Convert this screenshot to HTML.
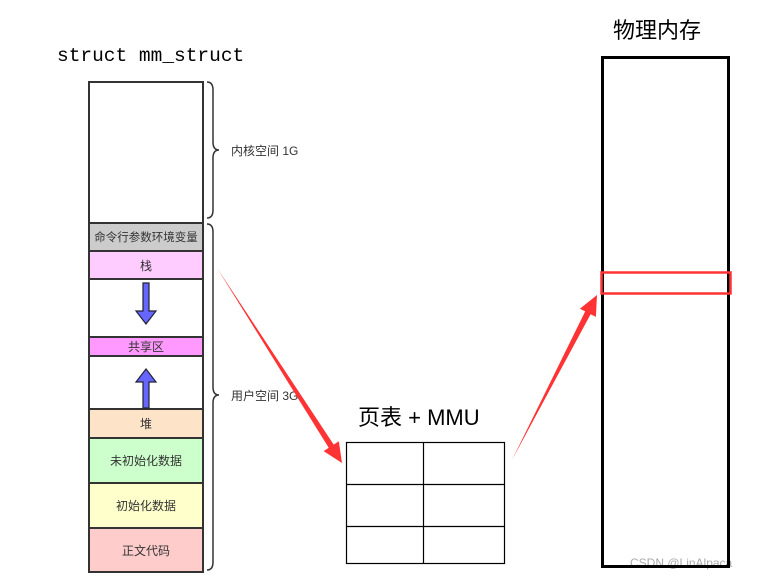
<!DOCTYPE html>
<html><head><meta charset="utf-8"><style>
body{margin:0;background:#fff;width:763px;height:582px;overflow:hidden;position:relative;font-family:"Liberation Sans","Noto Sans CJK SC",sans-serif}
.a{position:absolute}
.r{position:absolute;left:88px;width:116px;border:2px solid #333;box-sizing:border-box;display:flex;align-items:center;justify-content:center;font-size:12px;color:#333}
</style></head><body>
<div class="a" style="left:57px;top:45px;font-family:'Liberation Mono',monospace;font-size:19.5px">struct mm_struct</div>
<div class="r" style="top:81px;height:143px;background:#fff"></div>
<div class="r" style="top:222px;height:30px;background:#ccc;font-size:11.5px;white-space:nowrap">命令行参数环境变量</div>
<div class="r" style="top:250px;height:30px;background:#fcf">栈</div>
<div class="r" style="top:278px;height:60px;background:#fff"></div>
<div class="r" style="top:336px;height:21px;background:#f9f">共享区</div>
<div class="r" style="top:355px;height:55px;background:#fff"></div>
<div class="r" style="top:408px;height:31px;background:#fde4c8">堆</div>
<div class="r" style="top:437px;height:47px;background:#cfc">未初始化数据</div>
<div class="r" style="top:482px;height:47px;background:#ffc">初始化数据</div>
<div class="r" style="top:527px;height:46px;background:#fcc">正文代码</div>
<div class="a" style="left:231px;top:142px;font-size:12px;color:#333">内核空间 1G</div>
<div class="a" style="left:231px;top:387px;font-size:12px;color:#333">用户空间 3G</div>
<div class="a" style="left:358px;top:400px;font-size:22px">页表 + MMU</div>
<div class="a" style="left:613px;top:13px;font-size:22px">物理内存</div>
<div class="a" style="left:630px;top:556px;font-size:12px;color:#aaa">CSDN @LinAlpaca</div>
<svg class="a" style="left:0;top:0" width="763" height="582">
<g fill="none" stroke="#333" stroke-width="1.5">
<path d="M207,82 Q213,82 213,90 V142 Q213,150 219,150 Q213,150 213,158 V210 Q213,218 207,218"/>
<path d="M207,224 Q213,224 213,232 V387 Q213,395 219,395 Q213,395 213,403 V562 Q213,570 207,570"/>
</g>
<g fill="#66f" stroke="#223" stroke-width="1.2">
<polygon points="143,283 149,283 149,311 156,311 146,324 136,311 143,311"/>
<polygon points="143,408 149,408 149,382 156,382 146,369 136,382 143,382"/>
</g>
<g fill="none" stroke="#000" stroke-width="1.2">
<rect x="346.5" y="442.5" width="158" height="121"/>
<line x1="423.5" y1="442" x2="423.5" y2="564"/>
<line x1="346" y1="484.5" x2="505" y2="484.5"/>
<line x1="346" y1="526.5" x2="505" y2="526.5"/>
</g>
<rect x="602.5" y="57.5" width="126" height="509" fill="none" stroke="#000" stroke-width="3"/>
<rect x="601.5" y="272.5" width="129" height="21" fill="none" stroke="#f33" stroke-width="2.5"/>
<polygon fill="#f33" points="217,268 333.7,444.6 338.8,441.3 342,463 323.6,451.1 328.7,447.8"/>
<polygon fill="#f33" points="512,460 590.6,314.2 595.9,316.9 597,295 579.9,308.7 585.2,311.4"/>
</svg>
</body></html>
